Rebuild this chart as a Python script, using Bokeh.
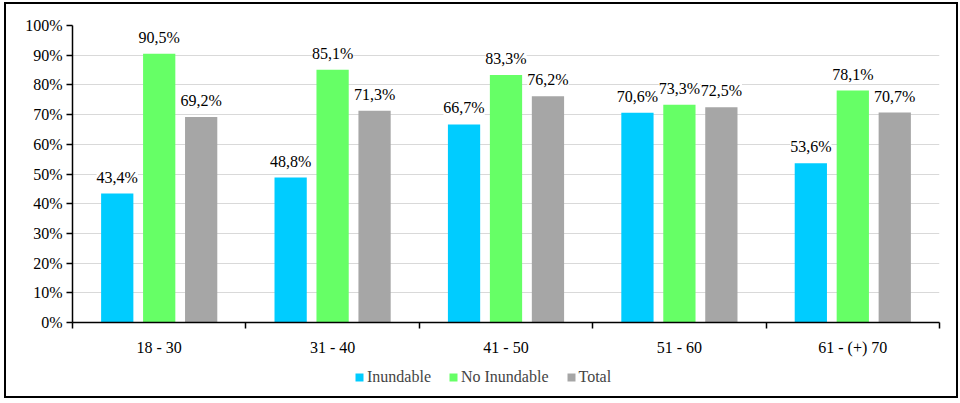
import numpy as np
from bokeh.plotting import figure
from bokeh.layouts import column
from bokeh.models import (ColumnDataSource, LabelSet, Legend, LegendItem, FixedTicker,
                          PrintfTickFormatter, Range1d)
from bokeh.embed import file_html
from bokeh.resources import INLINE

categories = ["18 - 30", "31 - 40", "41 - 50", "51 - 60", "61 - (+) 70"]
series_names = ["Inundable", "No Inundable", "Total"]
inundable = [43.4, 48.8, 66.7, 70.6, 53.6]
no_inundable = [90.5, 85.1, 83.3, 73.3, 78.1]
total = [69.2, 71.3, 76.2, 72.5, 70.7]
y_ticks = [0, 10, 20, 30, 40, 50, 60, 70, 80, 90, 100]

colors = ["#00CCFF", "#66FF66", "#A6A6A6"]
FONT = "'Liberation Serif'"

W = 950
p = figure(width=W, height=358, output_backend="svg", toolbar_location=None,
           x_range=Range1d(0, len(categories)), y_range=Range1d(0, 100),
           min_border_left=66, min_border_right=17, min_border_top=21, min_border_bottom=40)
p.outline_line_color = None
p.background_fill_color = "white"
p.border_fill_color = "white"

centers = np.arange(len(categories)) + 0.5
offsets = [-0.242, 0.0, 0.242]
bar_w = 0.186

for vals, off, col in zip([inundable, no_inundable, total], offsets, colors):
    src = ColumnDataSource(dict(
        x=centers + off,
        top=vals,
        lab=[f"{v:.1f}".replace(".", ",") + "%" for v in vals],
    ))
    p.vbar(x="x", top="top", width=bar_w, bottom=0, source=src,
           fill_color=col, line_color=None)
    labels = LabelSet(x="x", y="top", text="lab", source=src, text_align="center",
                      text_baseline="bottom", y_offset=8, text_font=FONT,
                      text_font_size="16px", text_color="black",
                      background_fill_color="white")
    p.add_layout(labels)

# axes
p.xaxis.ticker = FixedTicker(ticks=list(centers), minor_ticks=list(range(len(categories) + 1)))
p.xaxis.major_label_overrides = {float(c): cat for c, cat in zip(centers, categories)}
p.xaxis.major_tick_line_color = None
p.xaxis.minor_tick_out = 6
p.xaxis.minor_tick_in = 0
p.xaxis.minor_tick_line_color = "black"
p.xaxis.minor_tick_line_width = 1.5
p.xaxis.axis_line_color = "black"
p.xaxis.axis_line_width = 1.5
p.xaxis.major_label_text_font = FONT
p.xaxis.major_label_text_font_size = "16px"
p.xaxis.major_label_text_color = "black"
p.xaxis.major_label_standoff = 10

p.yaxis.ticker = FixedTicker(ticks=y_ticks)
p.yaxis.formatter = PrintfTickFormatter(format="%d%%")
p.yaxis.major_tick_out = 6
p.yaxis.major_tick_in = 0
p.yaxis.minor_tick_line_color = None
p.yaxis.axis_line_color = "black"
p.yaxis.axis_line_width = 1.5
p.yaxis.major_tick_line_width = 1.5
p.yaxis.major_label_text_font = FONT
p.yaxis.major_label_text_font_size = "16px"
p.yaxis.major_label_text_color = "black"
p.yaxis.major_label_standoff = 4

p.xgrid.grid_line_color = None
p.ygrid.ticker = FixedTicker(ticks=y_ticks)
p.ygrid.grid_line_color = "#D9D9D9"
p.ygrid.grid_line_width = 1

# legend in its own strip below the chart (proxy renderers lie outside the visible range)
p2 = figure(width=W, height=34, output_backend="svg", toolbar_location=None,
            x_axis_type=None, y_axis_type=None, x_range=Range1d(0, 1), y_range=Range1d(0, 1),
            min_border=0)
p2.outline_line_color = None
p2.border_fill_color = "white"
p2.background_fill_color = "white"
leg_renderers = []
for col in colors:
    leg_renderers.append(p2.vbar(x=[-5], top=[-5], bottom=[-6], width=0.1,
                                 fill_color=col, line_color=None))
legend = Legend(items=[LegendItem(label=n, renderers=[r]) for n, r in zip(series_names, leg_renderers)],
                orientation="horizontal", location=(282, 10),
                label_text_font=FONT, label_text_font_size="16px",
                glyph_width=10, glyph_height=10, label_standoff=3, spacing=17,
                border_line_color=None, background_fill_alpha=0, padding=0, margin=0)
p2.add_layout(legend, "center")

layout = column(p, p2, spacing=0,
                styles={"border": "2px solid black", "margin-left": "4px", "margin-top": "2px"})

open("out.html", "w").write(file_html(layout, INLINE))
